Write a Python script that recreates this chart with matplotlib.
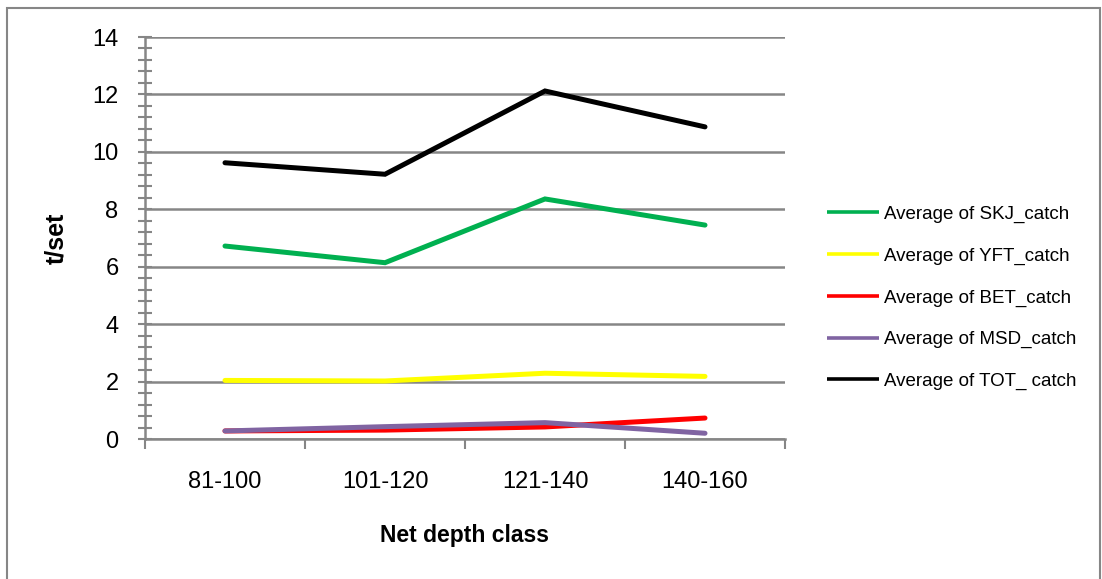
import matplotlib.pyplot as plt
from matplotlib.patches import Rectangle
from matplotlib.ticker import MultipleLocator

# net depth classes and average catch (t/set)
depth_classes = ['81-100', '101-120', '121-140', '140-160']
skj = [6.72, 6.14, 8.36, 7.45]
yft = [2.04, 2.02, 2.29, 2.18]
bet = [0.28, 0.31, 0.42, 0.73]
msd = [0.28, 0.43, 0.57, 0.20]
tot = [9.62, 9.22, 12.12, 10.87]

series = [
    ('Average of SKJ_catch', skj, '#00b050'),
    ('Average of YFT_catch', yft, '#ffff00'),
    ('Average of BET_catch', bet, '#ff0000'),
    ('Average of MSD_catch', msd, '#8064a2'),
    ('Average of TOT_ catch', tot, '#000000'),
]

plt.rcParams['font.family'] = ['Liberation Sans', 'DejaVu Sans']
grey = '#868686'

W, H = 1102, 579
fig = plt.figure(figsize=(W / 100, H / 100), dpi=100)
ax = fig.add_axes([145 / W, 1 - 439 / H, 640 / W, 402 / H])

x = range(len(depth_classes))
for label, vals, col in series:
    ax.plot(x, vals, color=col, lw=3.6, label=label, solid_capstyle='round',
            solid_joinstyle='miter')

ax.set_xlim(-0.5, len(depth_classes) - 0.5)
ax.set_ylim(0, 14)
ax.yaxis.set_major_locator(MultipleLocator(2))
ax.yaxis.set_minor_locator(MultipleLocator(0.4))
ax.set_xticks(list(x))
ax.set_xticklabels(depth_classes, fontsize=17)
ax.set_xticks([i - 0.5 for i in range(len(depth_classes) + 1)], minor=True)
ax.tick_params(axis='x', which='major', length=0, pad=23)
ax.tick_params(axis='x', which='minor', length=7, width=1.5, color=grey, direction='out')
ax.tick_params(axis='y', which='both', direction='inout', length=10, width=1.5,
               color=grey, labelsize=17, pad=14)
ax.grid(axis='y', which='major', color=grey, lw=1.8)
ax.set_axisbelow(True)

for side in ['top', 'right']:
    ax.spines[side].set_visible(False)
for side in ['left', 'bottom']:
    ax.spines[side].set_color(grey)
    ax.spines[side].set_linewidth(1.8)

ax.set_ylabel('t/set', fontsize=18, fontweight='bold')
ax.yaxis.set_label_coords((68 - 145) / 640, 0.5)
ax.set_xlabel('Net depth class', fontsize=16.5, fontweight='bold')
ax.xaxis.set_label_coords(0.5, (439 - 524) / 402)

leg = fig.legend(loc='upper left', bbox_to_anchor=(810 / W, 1 - 189 / H),
                 frameon=False, fontsize=13.5, handlelength=2.8, handletextpad=0.27,
                 labelspacing=1.3)
for ln in leg.get_lines():
    ln.set_linewidth(2.6)
    ln.set_solid_capstyle('butt')

# outer chart-area border
fig.patches.append(Rectangle((7 / W, -0.05), 1093 / W, 1.05 - 8 / H,
                             transform=fig.transFigure, fill=False,
                             edgecolor=grey, lw=1.5))

fig.savefig('out.png', dpi=100)
